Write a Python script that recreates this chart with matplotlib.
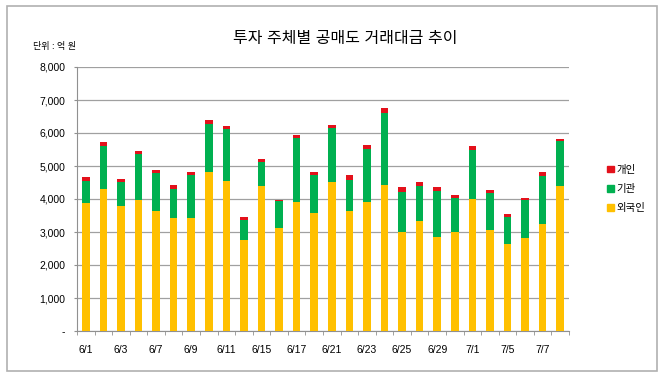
import matplotlib
matplotlib.use('Agg')
from matplotlib import pyplot as plt
from matplotlib.patches import Rectangle
import numpy as np

plt.rcParams['font.family'] = ['Liberation Sans', 'Noto Sans CJK KR', 'DejaVu Sans']

# Trading days (June-July)
dates = ['6/1', '6/2', '6/3', '6/4', '6/7', '6/8', '6/9', '6/10', '6/11', '6/14',
         '6/15', '6/16', '6/17', '6/18', '6/21', '6/22', '6/23', '6/24', '6/25', '6/28',
         '6/29', '6/30', '7/1', '7/2', '7/5', '7/6', '7/7', '7/8']
shown_labels = ['6/1', '6/3', '6/7', '6/9', '6/11', '6/15', '6/17', '6/21', '6/23',
                '6/25', '6/29', '7/1', '7/5', '7/7']

# Short-selling turnover by investor type (unit: 100 million won)
foreign = [3865, 4300, 3775, 3965, 3625, 3420, 3420, 4805, 4550, 2755,
           4380, 3110, 3915, 3590, 4510, 3645, 3895, 4420, 3015, 3340,
           2835, 2985, 4015, 3060, 2625, 2805, 3240, 4390]
institution = [695, 1310, 755, 1390, 1160, 870, 1310, 1460, 1565, 605,
               755, 825, 1940, 1150, 1655, 945, 1615, 2180, 1210, 1060,
               1415, 1040, 1475, 1120, 815, 1150, 1455, 1365]
individual = [100, 130, 70, 110, 100, 140, 100, 130, 110, 100,
              80, 40, 90, 80, 70, 130, 130, 150, 130, 100,
              100, 90, 130, 100, 100, 90, 120, 70]

c_foreign = '#FFC000'
c_inst = '#00B050'
c_indiv = '#E3111B'

fig = plt.figure(figsize=(6.7, 3.77), dpi=100)
fig.patches.append(Rectangle((7 / 670, 6 / 377), 650 / 670, 365 / 377,
                             transform=fig.transFigure, fill=False,
                             edgecolor='#B0B0B0', linewidth=1.2))

ax = fig.add_axes([77 / 670, 46 / 377, 492 / 670, 264 / 377])
x = np.arange(len(dates))
w = 0.43
foreign = np.array(foreign)
institution = np.array(institution)
individual = np.array(individual)
ax.bar(x, foreign, w, color=c_foreign, zorder=3)
ax.bar(x, institution, w, bottom=foreign, color=c_inst, zorder=3)
ax.bar(x, individual, w, bottom=foreign + institution, color=c_indiv, zorder=3)

ax.set_xlim(-0.5, len(dates) - 0.5)
ax.set_ylim(0, 8000)
yt = np.arange(0, 8001, 1000)
ax.set_yticks(yt)
ax.set_yticklabels(['-'] + [f'{v:,}' for v in yt[1:]], fontsize=7.5)
ax.yaxis.grid(True, color='#A0A0A0', linewidth=0.9, zorder=0)

ax.set_xticks(np.arange(0, len(dates), 2))
ax.set_xticklabels(shown_labels, fontsize=7.5)
ax.set_xticks(np.arange(-0.5, len(dates), 1), minor=True)
ax.tick_params(axis='x', which='major', length=0, pad=10)
ax.tick_params(axis='x', which='minor', length=3, color='#909090')
ax.tick_params(axis='y', length=2.5, color='#909090', pad=6)

for s in ['top', 'right']:
    ax.spines[s].set_visible(False)
for s in ['left', 'bottom']:
    ax.spines[s].set_color('#909090')

fig.text(345 / 670, 1 - 38 / 377, '투자 주체별 공매도 거래대금 추이', ha='center', va='center',
         fontsize=11.5)
fig.text(33 / 670, 1 - 46 / 377, '단위 : 억 원', ha='left', va='center', fontsize=6.5)

handles = [Rectangle((0, 0), 1, 1, color=c) for c in [c_indiv, c_inst, c_foreign]]
fig.legend(handles, ['개인', '기관', '외국인'], loc='center left',
           bbox_to_anchor=(598 / 670, 1 - 189 / 377), frameon=False, fontsize=7.5,
           handlelength=0.6, handleheight=0.6, handletextpad=0.3, labelspacing=0.9)

fig.savefig('out.png', dpi=100)
